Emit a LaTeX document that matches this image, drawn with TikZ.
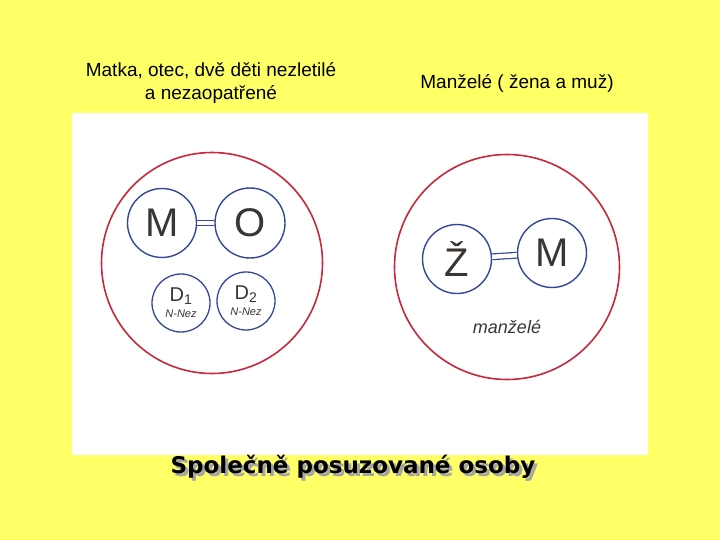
\documentclass[tikz,border=0pt]{standalone}
\usepackage{fontspec}
\setmainfont{Liberation Sans}
\newfontfamily\boldwide{DejaVu Sans}
\definecolor{bgyellow}{HTML}{FFFF66}
\definecolor{ringred}{HTML}{C8283C}
\definecolor{ringblue}{HTML}{34489A}
\definecolor{pencil}{HTML}{3A3632}
\begin{document}
\begin{tikzpicture}[x=1pt,y=-1pt,
  bigring/.style={circle,draw=ringred,line width=1.6pt,minimum size=#1,inner sep=0pt},
  person/.style={circle,draw=ringblue,line width=1.4pt,minimum size=#1,inner sep=0pt,text=pencil,font=\fontsize{40}{40}\selectfont},
  child/.style={circle,draw=ringblue,line width=1.3pt,minimum size=58pt,inner sep=0pt,text=pencil,align=center},
  bond/.style={draw=ringblue,line width=1.2pt,double=white,double distance=4.5pt},
  title/.style={font=\fontsize{19}{23}\selectfont,align=center,text=black}]
\useasboundingbox (0,0) rectangle (720,540);
\fill[bgyellow] (0,0) rectangle (720,540);
\fill[white] (72,113) rectangle (648,455);
% titles
\node[title] (t1) at (211,83) {Matka, otec, dvě děti nezletilé\\a nezaopatřené};
\node[title] (t2) at (517,83) {Manželé ( žena a muž)};
% left group
\node[bigring=221pt] (L) at (212,263) {};
\node[person=69pt] (M1) at (162,223) {M};
\node[person=70pt] (O) at (250,223) {O};
\draw[bond] (M1.east) -- (O.west);
\node[child] (D1) at (181,303) {\fontsize{20}{20}\selectfont D\textsubscript{1}\\[4pt]\fontsize{11}{11}\selectfont\itshape N-Nez};
\node[child] (D2) at (246,301) {\fontsize{20}{20}\selectfont D\textsubscript{2}\\[4pt]\fontsize{11}{11}\selectfont\itshape N-Nez};
% right group
\node[bigring=225pt] (R) at (507,267) {};
\node[person=69pt] (Z) at (457,259) {Ž};
\node[person=69pt] (M2) at (552,253) {M};
\draw[bond] (Z) -- (M2);
\node[text=pencil,font=\fontsize{18}{18}\selectfont\itshape] (man) at (507,327) {manželé};
% bottom caption with shadow
\node[font=\boldwide\bfseries\fontsize{23}{23}\selectfont,text=gray!70] at (356,469.5) {Společně posuzované osoby};
\node[font=\boldwide\bfseries\fontsize{23}{23}\selectfont,text=black] (cap) at (353,467) {Společně posuzované osoby};
\end{tikzpicture}
\end{document}
